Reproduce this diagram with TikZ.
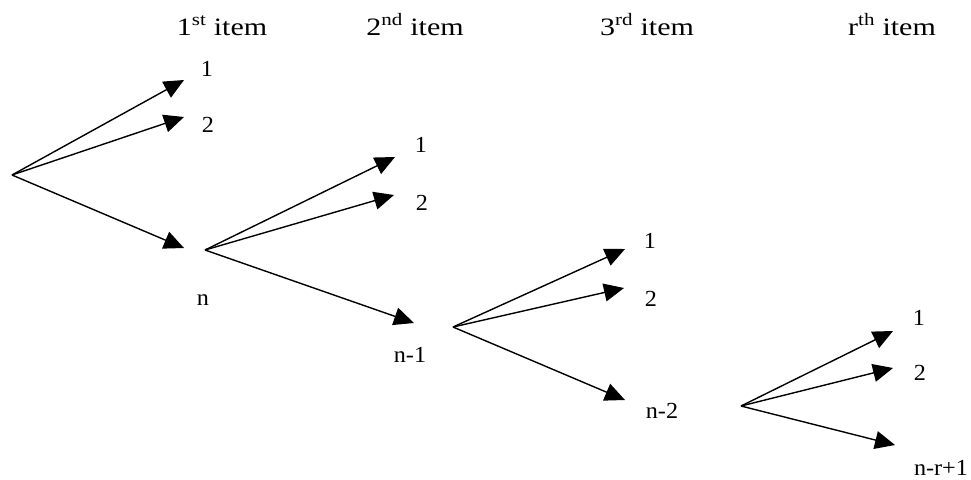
\documentclass[tikz,border=0pt]{standalone}
\usepackage{fontspec}
\newfontfamily\hdrfont{Liberation Serif}[FakeStretch=1.2]
\newfontfamily\lblfont{Liberation Serif}[FakeStretch=1.05]
\usetikzlibrary{arrows.meta}
\tikzset{
  arr/.style={line width=1.4pt, -{Triangle[length=20pt,width=18pt]}},
  lbl/.style={anchor=base, inner sep=0pt, font=\lblfont\fontsize{23}{27}\selectfont},
  hdr/.style={anchor=base, inner sep=0pt, font=\hdrfont\fontsize{25}{29}\selectfont}
}
\begin{document}
\begin{tikzpicture}[x=1pt,y=-1pt]
\useasboundingbox (0,0) rectangle (971,479);
% headers
\node[hdr] (h1) at (222,35) {1\textsuperscript{st} item};
\node[hdr] (h2) at (415,35) {2\textsuperscript{nd} item};
\node[hdr] (h3) at (647,35) {3\textsuperscript{rd} item};
\node[hdr] (h4) at (892,35) {r\textsuperscript{th} item};
% start points
\coordinate (s0) at (12,175);
\coordinate (s1) at (205,250);
\coordinate (s2) at (453,327);
\coordinate (s3) at (741,406);
% tips
\coordinate (t11) at (184,80);
\coordinate (t12) at (184,117);
\coordinate (t1n) at (184,248);
\coordinate (t21) at (395,157);
\coordinate (t22) at (394,195);
\coordinate (t2n) at (414,323);
\coordinate (t31) at (625,249);
\coordinate (t32) at (624,288);
\coordinate (t3n) at (625,400);
\coordinate (t41) at (893,331);
\coordinate (t42) at (893,368);
\coordinate (t4n) at (895,445);
% labels
\node[lbl] (l11) at (207,76) {1};
\node[lbl] (l12) at (208,132) {2};
\node[lbl] (l1n) at (203,305) {n};
\node[lbl] (l21) at (421,152) {1};
\node[lbl] (l22) at (422,210) {2};
\node[lbl] (l2n) at (410,362) {n-1};
\node[lbl] (l31) at (650,248) {1};
\node[lbl] (l32) at (651,306) {2};
\node[lbl] (l3n) at (662,418) {n-2};
\node[lbl] (l41) at (919,325) {1};
\node[lbl] (l42) at (920,380) {2};
\node[lbl] (l4n) at (941,475) {n-r+1};
% arrows
\draw[arr] (s0) -- (t11);
\draw[arr] (s0) -- (t12);
\draw[arr] (s0) -- (t1n);
\draw[arr] (s1) -- (t21);
\draw[arr] (s1) -- (t22);
\draw[arr] (s1) -- (t2n);
\draw[arr] (s2) -- (t31);
\draw[arr] (s2) -- (t32);
\draw[arr] (s2) -- (t3n);
\draw[arr] (s3) -- (t41);
\draw[arr] (s3) -- (t42);
\draw[arr] (s3) -- (t4n);
\end{tikzpicture}
\end{document}
